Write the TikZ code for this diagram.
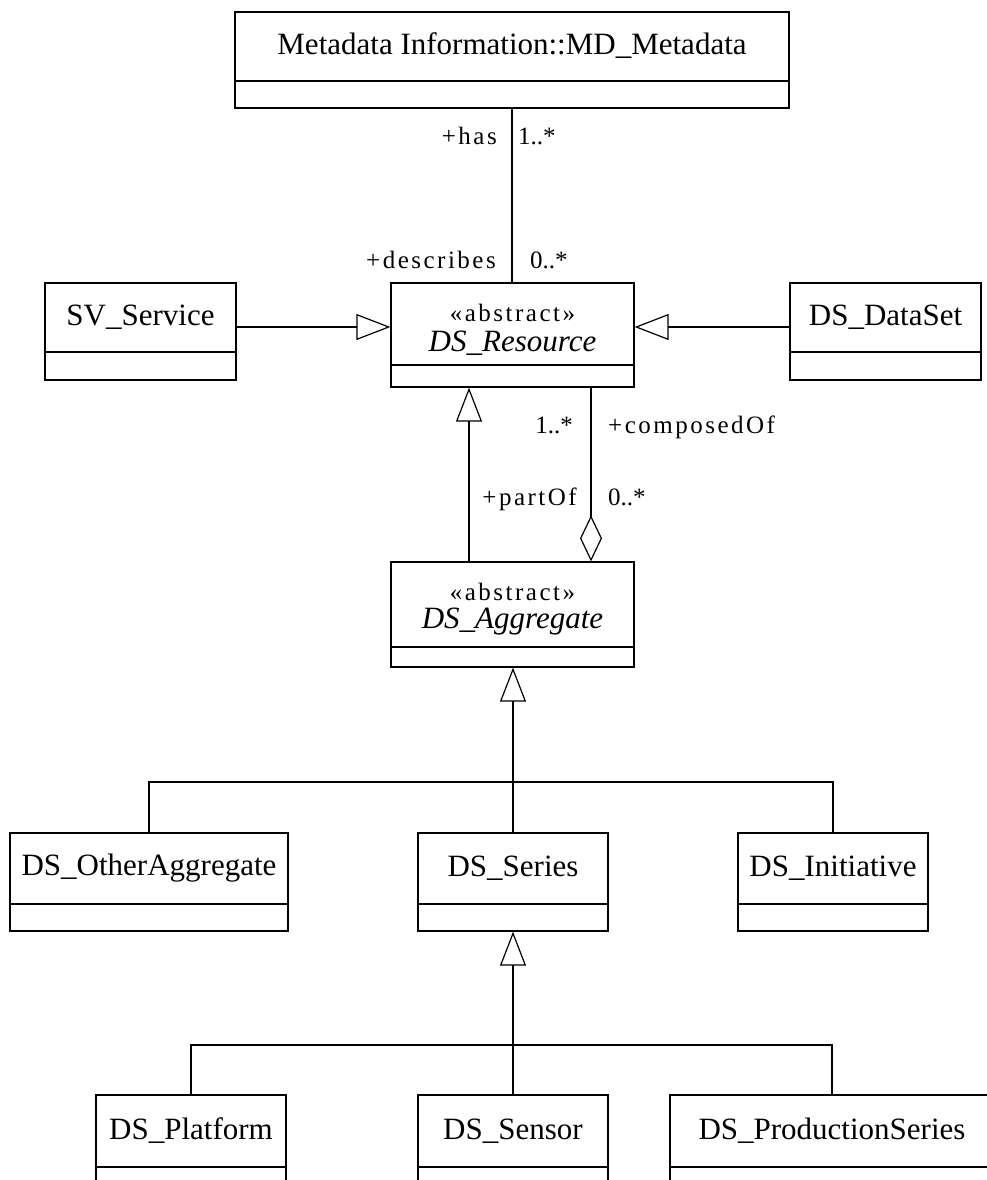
\documentclass[tikz,border=0pt]{standalone}
\usepackage{fontspec}
\setmainfont{Liberation Serif}
\newfontfamily\lblfont[LetterSpace=10]{Liberation Serif}
\usetikzlibrary{arrows.meta,calc,fit}
\newcommand\umlbox[6]{%
  \node[box, fit={(#2,#3) (#4,#6)}] (#1) {};
  \draw[box] (#1.west |- 0,#5) -- (#1.east |- 0,#5);
}
\begin{document}
\begin{tikzpicture}[x=1pt,y=-1pt,
  box/.style={draw, line width=1.3pt, inner sep=0pt},
  nm/.style={font=\fontsize{31}{36}\selectfont, inner sep=0pt},
  nmi/.style={font=\fontsize{31}{36}\selectfont\itshape, inner sep=0pt},
  st/.style={font=\lblfont\fontsize{25}{29}\selectfont, inner sep=0pt},
  lbl/.style={font=\lblfont\fontsize{25}{29}\selectfont, inner sep=0pt},
  mult/.style={font=\fontsize{25}{29}\selectfont, inner sep=0pt},
  ln/.style={line width=1.2pt},
  gen/.style={ln, -{Triangle[open, length=34pt, width=26pt]}},
  agg/.style={ln, {Diamond[open, length=46pt, width=22pt]}-},
]
\useasboundingbox (0,0) rectangle (987,1180);
\clip (0,0) rectangle (987,1180);

% classes
\umlbox{md}{235}{12}{789}{81}{108}
\node[nm] (md-n) at (512,46) {Metadata Information::MD\_Metadata};

\umlbox{res}{391}{283}{634}{365}{387}
\node[st] (res-s) at (512.5,313) {«abstract»};
\node[nmi] (res-n) at (512.5,343) {DS\_Resource};

\umlbox{sv}{45}{283}{236}{352}{380}
\node[nm] (sv-n) at (140.5,317.5) {SV\_Service};

\umlbox{ds}{790}{283}{981}{352}{380}
\node[nm] (ds-n) at (885.5,317.5) {DS\_DataSet};

\umlbox{agg}{391}{562}{634}{647}{667}
\node[st] (agg-s) at (512.5,592) {«abstract»};
\node[nmi] (agg-n) at (512.5,622) {DS\_Aggregate};

\umlbox{oth}{10}{833}{288}{904}{931}
\node[nm] (oth-n) at (149,868.5) {DS\_OtherAggregate};
\umlbox{ser}{418}{833}{608}{904}{931}
\node[nm] (ser-n) at (513,868.5) {DS\_Series};
\umlbox{ini}{738}{833}{928}{904}{931}
\node[nm] (ini-n) at (833,868.5) {DS\_Initiative};

\umlbox{plat}{96}{1095}{286}{1167}{1210}
\node[nm] (plat-n) at (191,1131) {DS\_Platform};
\umlbox{sen}{418}{1095}{608}{1167}{1210}
\node[nm] (sen-n) at (513,1131) {DS\_Sensor};
\umlbox{prod}{670}{1095}{994}{1167}{1210}
\node[nm] (prod-n) at (832,1131) {DS\_ProductionSeries};

% association
\draw[ln] (md.south) -- (md.south |- res.north);
\node[lbl, anchor=base east] (l-has) at (497,145) {+has};
\node[mult, anchor=base west] (l-m1) at (518,145) {1..*};
\node[lbl, anchor=base east] (l-desc) at (496,268) {+describes};
\node[mult, anchor=base west] (l-m2) at (530,268) {0..*};

% generalizations to DS_Resource
\coordinate (svr) at ([yshift=4.5pt]sv.east);
\draw[gen] (svr) -- (res.west |- svr);
\coordinate (dsl) at ([yshift=4.5pt]ds.west);
\draw[gen] (dsl) -- (res.east |- dsl);
\draw[gen] (agg.north -| 469,0) -- (res.south -| 469,0);

% aggregation
\draw[agg] (agg.north -| 591,0) -- (res.south -| 591,0);
\node[mult, anchor=base east] (l-m3) at (573,433) {1..*};
\node[lbl, anchor=base west] (l-comp) at (608,433) {+composedOf};
\node[lbl, anchor=base east] (l-part) at (577,505) {+partOf};
\node[mult, anchor=base west] (l-m4) at (608,505) {0..*};

% hierarchy under DS_Aggregate
\coordinate (j1) at (513,782);
\draw[gen] (j1) -- (j1 |- agg.south);
\draw[ln] (oth.north) |- (j1) -| (ini.north);
\draw[ln] (ser.north) -- (ser.north |- j1);

% hierarchy under DS_Series
\coordinate (j2) at (513,1045);
\draw[gen] (j2) -- (ser.south);
\draw[ln] (plat.north) |- (j2) -| (prod.north);
\draw[ln] (sen.north) -- (sen.north |- j2);
\end{tikzpicture}
\end{document}
